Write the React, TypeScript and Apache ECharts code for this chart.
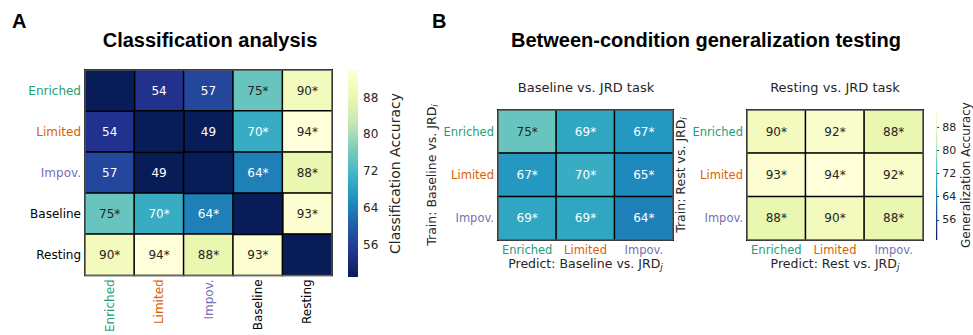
import React, { useEffect, useRef } from 'react';
import * as echarts from 'echarts';

// ---------- data ----------
const conditionsA = ['Enriched', 'Limited', 'Impov.', 'Baseline', 'Resting'];
const conditionsB = ['Enriched', 'Limited', 'Impov.'];

// classification accuracy (row = condition i, col = condition j); null = diagonal
const classificationAccuracy: (number | null)[][] = [
  [null, 54, 57, 75, 90],
  [54, null, 49, 70, 94],
  [57, 49, null, 64, 88],
  [75, 70, 64, null, 93],
  [90, 94, 88, 93, null],
];
const classificationSig: boolean[][] = [
  [false, false, false, true, true],
  [false, false, false, true, true],
  [false, false, false, true, true],
  [true, true, true, false, true],
  [true, true, true, true, false],
];

const baselineVsJRD: number[][] = [
  [75, 69, 67],
  [67, 70, 65],
  [69, 69, 64],
];
const restVsJRD: number[][] = [
  [90, 92, 88],
  [93, 94, 92],
  [88, 90, 88],
];
const generalizationSig: boolean[][] = [
  [true, true, true],
  [true, true, true],
  [true, true, true],
];

const colorRange = [49, 94];
const colorbarTicks = [56, 64, 72, 80, 88];

// ---------- styles ----------
const YLGNBU = ['#081d58', '#253494', '#225ea8', '#1d91c0', '#41b6c4', '#7fcdbb', '#c7e9b4', '#edf8b1', '#ffffd9'];
const labelColor: Record<string, string> = {
  Enriched: '#1b9e77',
  Limited: '#d95f02',
  'Impov.': '#7570b3',
  Baseline: '#000000',
  Resting: '#000000',
};
const FONT = 'DejaVu Sans';
const TITLE_FONT = 'Liberation Sans';

function cells(matrix: (number | null)[][], sig: boolean[][]) {
  const out: any[] = [];
  matrix.forEach((row, r) =>
    row.forEach((v, c) => {
      if (v == null) return;
      out.push({
        value: [c, r, v],
        sig: sig[r][c],
        label: { color: v >= 72 ? '#262626' : '#ffffff' },
      });
    })
  );
  return out;
}

function diagonal(matrix: (number | null)[][]) {
  const out: any[] = [];
  matrix.forEach((row, r) =>
    row.forEach((v, c) => {
      if (v == null) out.push({ value: [c, r, 0] });
    })
  );
  return out;
}

const cellLabel = (fs: number) => ({
  show: true,
  fontFamily: FONT,
  fontSize: fs,
  formatter: (p: any) => `${p.data.value[2]}${p.data.sig ? '*' : ''}`,
});

const cellStyle = { borderColor: '#000000', borderWidth: 1.5 };

function colorbarSeries(idx: number) {
  return {
    type: 'custom',
    xAxisIndex: idx,
    yAxisIndex: idx,
    silent: true,
    data: [[colorRange[0], colorRange[1]]],
    renderItem: (_params: any, api: any) => {
      const lo = api.coord([0, api.value(0)]);
      const hi = api.coord([1, api.value(1)]);
      return {
        type: 'rect',
        shape: { x: lo[0], y: hi[1], width: hi[0] - lo[0], height: lo[1] - hi[1] },
        style: {
          fill: new echarts.graphic.LinearGradient(
            0, 1, 0, 0,
            YLGNBU.map((c, i) => ({ offset: i / (YLGNBU.length - 1), color: c }))
          ),
        },
      };
    },
  };
}

function catAxis(gridIndex: number, data: string[], fs: number, extra: any = {}, rotate = 0) {
  return {
    gridIndex,
    type: 'category',
    data,
    axisLine: { show: false },
    axisTick: { show: false },
    splitLine: { show: false },
    axisLabel: {
      interval: 0,
      rotate,
      fontFamily: FONT,
      fontSize: fs,
      margin: 4,
      color: (v: string) => labelColor[v],
    },
    ...extra,
  };
}

function cbarYAxis(gridIndex: number, name: string, fs: number, nameFs: number, nameGap: number) {
  return {
    gridIndex,
    type: 'value',
    min: colorRange[0],
    max: colorRange[1],
    position: 'right',
    axisLine: { show: false },
    splitLine: { show: false },
    axisTick: { show: true, length: 3, customValues: colorbarTicks, lineStyle: { color: '#333' } },
    axisLabel: { customValues: colorbarTicks, fontFamily: FONT, fontSize: fs, color: '#262626', margin: 5 },
    name,
    nameLocation: 'middle',
    nameRotate: 90,
    nameGap,
    nameTextStyle: { fontFamily: FONT, fontSize: nameFs, color: '#262626' },
  };
}

const subRich = {
  sub: { fontFamily: FONT, fontSize: 9, fontStyle: 'italic', color: '#262626', padding: [7, 0, 0, 0] },
};
const axisNameStyle = { fontFamily: FONT, fontSize: 12.5, color: '#262626', rich: subRich };

const frame = { show: true, z: 10, backgroundColor: 'rgba(0,0,0,0)', borderColor: '#7a7a7a', borderWidth: 1 };

export default function App() {
  const ref = useRef<HTMLDivElement>(null);
  useEffect(() => {
    if (!ref.current) return;
    const chart = echarts.init(ref.current, undefined, { renderer: 'svg' });
    const option: any = {
      animation: false,
      backgroundColor: '#ffffff',
      grid: [
        { left: 85, top: 70, width: 247, height: 207, ...frame },
        { left: 348, top: 70, width: 10, height: 207 },
        { left: 498, top: 110, width: 175, height: 130, ...frame },
        { left: 747, top: 110, width: 176, height: 130, ...frame },
        { left: 936, top: 110, width: 5, height: 130 },
      ],
      xAxis: [
        catAxis(0, conditionsA, 12, {}, 90),
        { gridIndex: 1, type: 'value', min: 0, max: 1, show: false },
        catAxis(2, conditionsB, 11.5, {
          name: 'Predict: Baseline vs. JRD{sub|j}',
          nameLocation: 'middle',
          nameGap: 15,
          nameTextStyle: axisNameStyle,
        }),
        catAxis(3, conditionsB, 11.5, {
          name: 'Predict: Rest vs. JRD{sub|j}',
          nameLocation: 'middle',
          nameGap: 15,
          nameTextStyle: axisNameStyle,
        }),
        { gridIndex: 4, type: 'value', min: 0, max: 1, show: false },
      ],
      yAxis: [
        catAxis(0, conditionsA, 12, { inverse: true }),
        cbarYAxis(1, 'Classification Accuracy', 12, 14, 30),
        catAxis(2, conditionsB, 11.5, {
          inverse: true,
          name: 'Train: Baseline vs. JRD{sub|i}',
          nameLocation: 'middle',
          nameRotate: 90,
          nameGap: 52,
          nameTextStyle: axisNameStyle,
        }),
        catAxis(3, conditionsB, 11.5, {
          inverse: true,
          name: 'Train: Rest vs. JRD{sub|i}',
          nameLocation: 'middle',
          nameRotate: 90,
          nameGap: 53,
          nameTextStyle: axisNameStyle,
        }),
        cbarYAxis(4, 'Generalization Accuracy', 11, 12, 22),
      ],
      visualMap: [
        {
          show: false,
          type: 'continuous',
          seriesIndex: [0, 3, 4],
          dimension: 2,
          min: colorRange[0],
          max: colorRange[1],
          inRange: { color: YLGNBU },
        },
        {
          show: false,
          type: 'continuous',
          seriesIndex: [1],
          dimension: 2,
          min: 0,
          max: 1,
          inRange: { color: [YLGNBU[0], YLGNBU[0]] },
        },
      ],
      series: [
        { type: 'heatmap', xAxisIndex: 0, yAxisIndex: 0, data: cells(classificationAccuracy, classificationSig), label: cellLabel(12), itemStyle: cellStyle },
        { type: 'heatmap', xAxisIndex: 0, yAxisIndex: 0, data: diagonal(classificationAccuracy), label: { show: false }, itemStyle: cellStyle },
        colorbarSeries(1),
        { type: 'heatmap', xAxisIndex: 2, yAxisIndex: 2, data: cells(baselineVsJRD, generalizationSig), label: cellLabel(12), itemStyle: cellStyle },
        { type: 'heatmap', xAxisIndex: 3, yAxisIndex: 3, data: cells(restVsJRD, generalizationSig), label: cellLabel(12), itemStyle: cellStyle },
        colorbarSeries(4),
      ],
      graphic: [
        { type: 'text', x: 12, y: 21, style: { text: 'A', font: `bold 20px "${TITLE_FONT}"`, fill: '#000', textVerticalAlign: 'middle' } },
        { type: 'text', x: 210, y: 40, style: { text: 'Classification analysis', font: `bold 20px "${TITLE_FONT}"`, fill: '#000', textAlign: 'center', textVerticalAlign: 'middle' } },
        { type: 'text', x: 432, y: 21, style: { text: 'B', font: `bold 20px "${TITLE_FONT}"`, fill: '#000', textVerticalAlign: 'middle' } },
        { type: 'text', x: 706, y: 40, style: { text: 'Between-condition generalization testing', font: `bold 20px "${TITLE_FONT}"`, fill: '#000', textAlign: 'center', textVerticalAlign: 'middle' } },
        { type: 'text', x: 586, y: 87, style: { text: 'Baseline vs. JRD task', font: `13px "${FONT}"`, fill: '#262626', textAlign: 'center', textVerticalAlign: 'middle' } },
        { type: 'text', x: 835, y: 87, style: { text: 'Resting vs. JRD task', font: `13px "${FONT}"`, fill: '#262626', textAlign: 'center', textVerticalAlign: 'middle' } },
      ],
    };
    chart.setOption(option);
    return () => chart.dispose();
  }, []);
  return (
    <div
      ref={ref}
      style={{ position: 'fixed', left: 0, top: 0, width: 973, height: 335, background: '#fff' }}
    />
  );
}
